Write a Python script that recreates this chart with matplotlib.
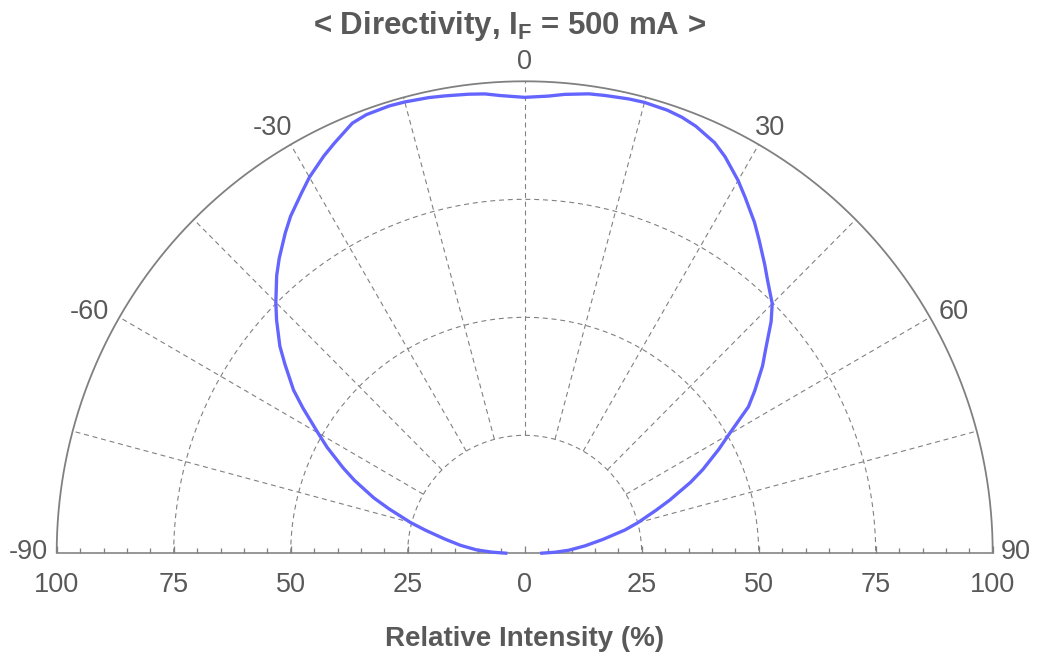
import numpy as np
import matplotlib
matplotlib.use("Agg")
import matplotlib.pyplot as plt

# ---------------- data ----------------
angles_deg = [-90, -88, -86, -83, -80, -77, -75, -72, -70, -67, -65, -62, -60,
              -57, -55, -52, -50, -47, -45, -42, -40, -37, -35, -32, -30, -27,
              -25, -22, -20, -17, -15, -12, -10, -7, -5, -3, 0, 3, 5, 8, 10, 13,
              15, 18, 20, 22, 25, 27, 30, 32, 35, 37, 40, 42, 45, 47, 50, 52,
              55, 57, 60, 62, 65, 67, 70, 72, 75, 77, 80, 83, 86, 88, 90]
intensity = [3.7, 7.0, 10.3, 13.8, 17.3, 21.8, 25.3, 30.5, 34.3, 39.5, 42.8,
             47.8, 51.0, 56.5, 60.3, 65.0, 68.3, 72.5, 75.2, 79.2, 81.6, 85.0,
             87.2, 90.0, 92.0, 94.5, 96.0, 98.3, 98.9, 99.1, 99.0, 98.7, 98.4,
             98.0, 97.7, 97.1, 96.6, 97.0, 97.6, 98.3, 98.5, 98.8, 98.9, 98.7,
             98.3, 97.6, 96.0, 94.3, 91.2, 88.9, 85.6, 83.2, 79.8, 77.6, 74.8,
             72.0, 67.2, 64.5, 60.0, 57.0, 50.4, 47.0, 42.0, 38.5, 33.0, 29.5,
             25.0, 22.0, 17.0, 13.0, 9.5, 6.5, 3.3]

theta_label_angles = [-90, -60, -30, 0, 30, 60, 90]
spoke_angles = [-75, -60, -45, -30, -15, 0, 15, 30, 45, 60, 75]
grid_radii = [25, 50, 75]
r_max = 100
r_tick_pos = [-100, -75, -50, -25, 0, 25, 50, 75, 100]
r_tick_labels = ["100", "75", "50", "25", "0", "25", "50", "75", "100"]
title = r"< Directivity, $\mathbf{I_F}$ = 500 mA >"
xlabel = "Relative Intensity (%)"

# ---------------- style ----------------
plt.rcParams["font.family"] = ["Liberation Sans", "DejaVu Sans"]
plt.rcParams["mathtext.fontset"] = "custom"
plt.rcParams["mathtext.rm"] = "Liberation Sans"
plt.rcParams["mathtext.bf"] = "Liberation Sans:bold"

GRAY = "#808080"
TXT = "#595959"
BLUE = "#6464ff"
PX = 0.72  # points per pixel at 100 dpi
TICK_FS = 19.5

W, H = 1038, 656
fig = plt.figure(figsize=(W / 100, H / 100), dpi=100)
x0, x1 = 56.7, 992.7
y0, y1 = 553.3, 81.3
ax = fig.add_axes([x0 / W, (H - y0) / H, (x1 - x0) / W, (y0 - y1) / H])
ax.set_xlim(-r_max, r_max)
ax.set_ylim(0, r_max)
for s in ["top", "left", "right"]:
    ax.spines[s].set_visible(False)
ax.spines["bottom"].set_color(GRAY)
ax.spines["bottom"].set_linewidth(1.6 * PX)
ax.set_yticks([])
ax.set_xticks(r_tick_pos)
ax.set_xticklabels(r_tick_labels)
ax.set_xticks(np.arange(-r_max, r_max + 1, 5), minor=True)
ax.tick_params(axis="x", which="major", direction="in", length=7 * PX,
               width=1.3 * PX, color=GRAY, labelsize=TICK_FS, labelcolor=TXT,
               pad=18.5 * PX)
ax.tick_params(axis="x", which="minor", direction="in", length=5.5 * PX,
               width=1.3 * PX, color=GRAY)
ax.patch.set_visible(False)

t = np.linspace(-np.pi / 2, np.pi / 2, 721)
# dashed grid circles
for rr in grid_radii:
    ax.plot(rr * np.sin(t), rr * np.cos(t), color=GRAY, lw=1.1 * PX,
            ls=(0, (4.5, 3.5)), zorder=1, clip_on=False)
# dashed spokes from inner circle to outer
for a in spoke_angles:
    ar = np.radians(a)
    rs = np.array([grid_radii[0], r_max])
    ax.plot(rs * np.sin(ar), rs * np.cos(ar), color=GRAY, lw=1.1 * PX,
            ls=(0, (4.5, 3.5)), zorder=1, clip_on=False)
# outer arc
ax.plot(r_max * np.sin(t), r_max * np.cos(t), color=GRAY, lw=1.8 * PX,
        zorder=2, clip_on=False, solid_capstyle="butt")

# curve
th = np.radians(angles_deg)
rv = np.array(intensity)
ax.plot(rv * np.sin(th), rv * np.cos(th), color=BLUE, lw=3.3 * PX, zorder=4,
        clip_on=False, solid_capstyle="butt", solid_joinstyle="round")

# angle labels (offsets in pixels from arc point)
offsets = {-90: (-28, 1), -60: (-30, 5), -30: (-18.5, 16.5), 0: (0, 19),
           30: (11.5, 16.5), 60: (23.7, 5.3), 90: (23, 1)}
for a in theta_label_angles:
    ar = np.radians(a)
    dx, dy = offsets[a]
    ax.annotate(str(a), xy=(r_max * np.sin(ar), r_max * np.cos(ar)),
                xytext=(dx * PX, dy * PX), textcoords="offset points",
                ha="center", va="center", fontsize=TICK_FS, color=TXT,
                annotation_clip=False)

fig.text(509.5 / W, 1 - 34 / H, title, ha="center", va="baseline",
         fontsize=22.5, fontweight="bold", color=TXT)
fig.text(525 / W, 1 - 646 / H, xlabel, ha="center", va="baseline",
         fontsize=20, fontweight="bold", color=TXT)

fig.savefig("out.png", dpi=100)
